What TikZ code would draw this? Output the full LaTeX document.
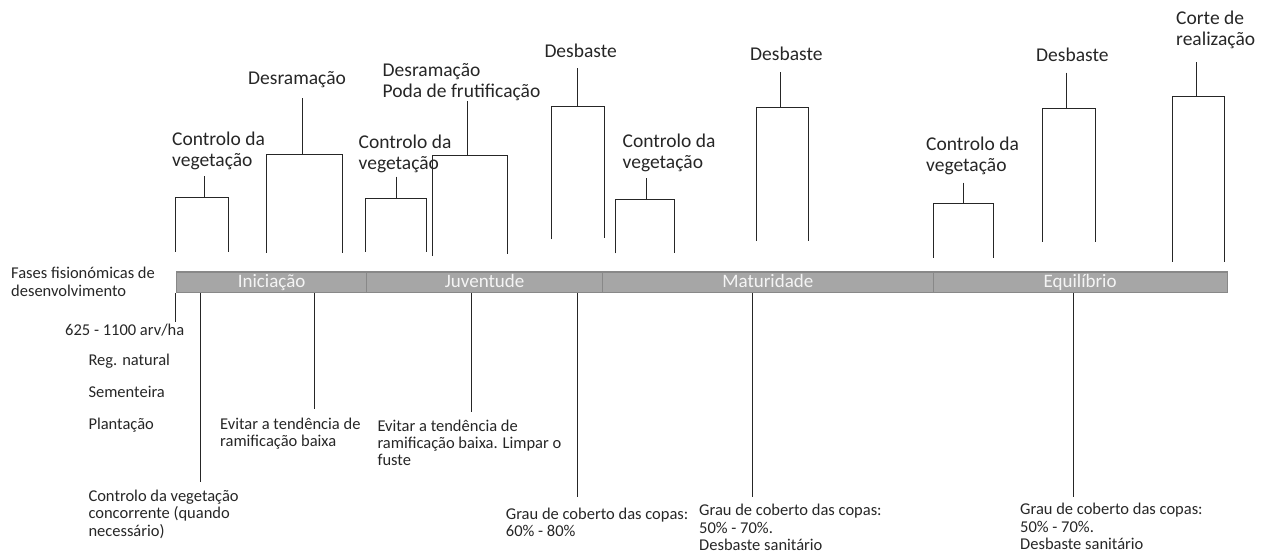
\documentclass[tikz,border=0pt]{standalone}
\usepackage{fontspec}
\setmainfont{Carlito}
\usetikzlibrary{positioning}
\definecolor{phfill}{HTML}{A6A6A6}
\definecolor{phline}{HTML}{888888}
\definecolor{phtext}{HTML}{F4F4F4}
\definecolor{ink}{HTML}{262626}
\begin{document}
\begin{tikzpicture}[x=1pt,y=-1pt,
  phase/.style={draw=phline,fill=phfill,line width=1.2pt,text=phtext,anchor=west,
    minimum height=20.5pt,inner sep=0pt,text height=12pt,text depth=2pt,
    font=\fontsize{19}{21}\selectfont},
  toplbl/.style={anchor=base west,align=left,inner sep=0pt,text=ink,
    font=\fontsize{19.5}{21}\selectfont},
  botlbl/.style={anchor=base west,align=left,inner sep=0pt,text=ink,
    font=\fontsize{16.5}{17.3}\selectfont},
  tick/.style={draw=ink,line width=0.9pt}]
  \useasboundingbox (0,0) rectangle (1261,554);
  % phases bar
  \node[phase,minimum width=190pt]   (ini) at (176,282.3)   {Iniciação};
  \node[phase,minimum width=236pt]   (juv) at (366,282.3)   {Juventude};
  \node[phase,minimum width=330.5pt] (mat) at (602,282.3)   {Maturidade};
  \node[phase,minimum width=294pt]   (equ) at (932.5,282.3) {Equilíbrio};
  \node[botlbl] (fases) at (11,296) {Fases fisionómicas de\\desenvolvimento};
  % operations above the bar (base = last line)
  \node[toplbl] (op1)  at (172,166.5)  {Controlo da\\vegetação};
  \node[toplbl] (op2)  at (248,84.5)   {Desramação};
  \node[toplbl] (op3)  at (358.5,169)  {Controlo da\\vegetação};
  \node[toplbl] (op4)  at (382.5,97.2) {Desramação\\Poda de frutificação};
  \node[toplbl] (op5)  at (544.3,57)   {Desbaste};
  \node[toplbl] (op6)  at (622.5,168)  {Controlo da\\vegetação};
  \node[toplbl] (op7)  at (750,60.5)   {Desbaste};
  \node[toplbl] (op8)  at (926,171)    {Controlo da\\vegetação};
  \node[toplbl] (op9)  at (1036,61.8)  {Desbaste};
  \node[toplbl] (op10) at (1176,45.5)  {Corte de\\realização};
  % brackets
  \foreach \n/\xl/\xr/\xs/\yh/\ybl/\ybr/\yt in {
     1/175.7/228.7/204/197.3/251.7/251.7/176.3,
     2/266.7/342.3/302.3/154.3/252.7/252.7/98.3,
     3/365.7/426/396.3/198/251.7/251.7/176.7,
     4/432/507.3/467.7/155.3/256/254/101,
     5/551.7/604.3/577.7/106/239.3/238.3/68.3,
     6/615/674.3/646/199.7/253.3/253.3/178.3,
     7/756.7/808.3/780.7/107.7/241/241/72.3,
     8/933.3/993.3/963.3/203.3/257.7/257.7/182.7,
     9/1042.3/1095/1066.3/108.3/241.7/241.7/72.7,
     10/1172/1224/1196/96.7/261.7/261.7/62}{
     \coordinate (top\n) at (\xs,\yt);
     \coordinate (hub\n) at (\xs,\yh);
     \draw[tick] (\xl,\ybl) |- (\xr,\yh) -- (\xr,\ybr);
     \draw[tick] (top\n) -- (hub\n);
  }
  % notes below the bar (base = last line)
  \node[botlbl] (dens)  at (65,335.7)   {625 - 1100 arv/ha};
  \node[botlbl] (reg)   at (88.3,365)   {Reg. natural};
  \node[botlbl] (sem)   at (88.3,397.3) {Sementeira};
  \node[botlbl] (plan)  at (88.3,429.7) {Plantação};
  \node[botlbl] (conc)  at (88.3,536)   {Controlo da vegetação\\concorrente (quando\\necessário)};
  \node[botlbl] (evit1) at (220,446.7)  {Evitar a tendência de\\ramificação baixa};
  \node[botlbl] (evit2) at (377.3,465.7){Evitar a tendência de\\ramificação baixa. Limpar o\\fuste};
  \node[botlbl] (grau1) at (505.7,536.5){Grau de coberto das copas:\\60\% - 80\%};
  \node[botlbl] (grau2) at (699,550.5)  {Grau de coberto das copas:\\50\% - 70\%.\\Desbaste sanitário};
  \node[botlbl] (grau3) at (1020,549.5) {Grau de coberto das copas:\\50\% - 70\%.\\Desbaste sanitário};
  % leader lines
  \coordinate (e1) at (175.7,321.7);
  \coordinate (e2) at (200,482.3);
  \coordinate (e3) at (314.3,409.3);
  \coordinate (e4) at (471,411.7);
  \coordinate (e5) at (577.3,496.7);
  \coordinate (e6) at (752.3,496.7);
  \coordinate (e7) at (1073.3,496.7);
  \draw[tick] (ini.south -| e1) -- (e1);
  \draw[tick] (ini.south -| e2) -- (e2);
  \draw[tick] (ini.south -| e3) -- (e3);
  \draw[tick] (juv.south -| e4) -- (e4);
  \draw[tick] (juv.south -| e5) -- (e5);
  \draw[tick] (mat.south -| e6) -- (e6);
  \draw[tick] (equ.south -| e7) -- (e7);
\end{tikzpicture}
\end{document}
